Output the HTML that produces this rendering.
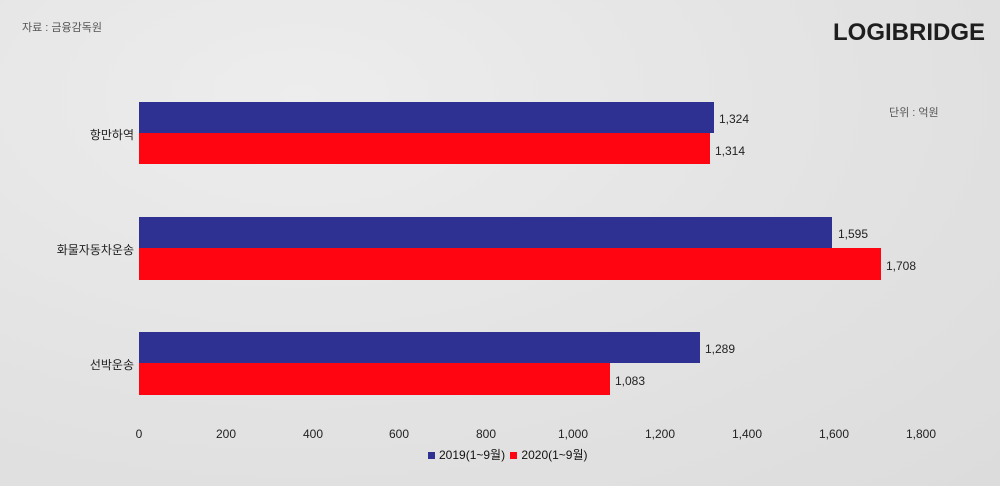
<!DOCTYPE html>
<html><head><meta charset="utf-8"><style>
body{margin:0;width:1000px;height:486px;overflow:hidden;font-family:"Liberation Sans","Noto Sans CJK KR",sans-serif;
background:radial-gradient(ellipse at 30% 20%,#ededed,#e2e2e2 60%,#dcdcdc);position:relative}
.t{position:absolute;white-space:nowrap}
.b{position:absolute;left:139px}
.blue{background:#2e3191}.red{background:#ff0511}
.v{position:absolute;font-size:12px;color:#222}
.c{position:absolute;font-size:12px;color:#222;text-align:right;width:120px;left:14px}
.x{position:absolute;top:427px;font-size:12px;color:#222;width:60px;text-align:center}
</style></head><body>
<div class="t" style="left:22px;top:19px;font-size:11px;color:#555">자료 : 금융감독원</div>
<div class="t" style="left:833px;top:19px;font-size:24px;font-weight:bold;color:#1e1e1e;letter-spacing:0">LOGIBRIDGE</div>
<div class="t" style="left:889px;top:104px;font-size:11px;color:#555">단위 : 억원</div>

<div class="b blue" style="top:102px;height:31px;width:575px"></div>
<div class="b red" style="top:133px;height:31px;width:571px"></div>
<div class="b blue" style="top:217px;height:31px;width:693px"></div>
<div class="b red" style="top:248px;height:32px;width:742px"></div>
<div class="b blue" style="top:332px;height:31px;width:561px"></div>
<div class="b red" style="top:363px;height:32px;width:471px"></div>

<div class="v" style="left:719px;top:112px">1,324</div>
<div class="v" style="left:715px;top:144px">1,314</div>
<div class="v" style="left:838px;top:227px">1,595</div>
<div class="v" style="left:886px;top:259px">1,708</div>
<div class="v" style="left:705px;top:342px">1,289</div>
<div class="v" style="left:615px;top:374px">1,083</div>

<div class="c" style="top:126px">항만하역</div>
<div class="c" style="top:241px">화물자동차운송</div>
<div class="c" style="top:356px">선박운송</div>

<div class="x" style="left:109px">0</div>
<div class="x" style="left:196px">200</div>
<div class="x" style="left:283px">400</div>
<div class="x" style="left:369px">600</div>
<div class="x" style="left:456px">800</div>
<div class="x" style="left:543px">1,000</div>
<div class="x" style="left:630px">1,200</div>
<div class="x" style="left:717px">1,400</div>
<div class="x" style="left:804px">1,600</div>
<div class="x" style="left:891px">1,800</div>

<div class="t" style="left:428px;top:446px;font-size:12px;color:#111"><span style="display:inline-block;width:7px;height:7px;background:#2e3191;margin-right:4px"></span>2019(1~9월) <span style="display:inline-block;width:7px;height:7px;background:#ff0511;margin:0 4px 0 2px"></span>2020(1~9월)</div>
</body></html>
